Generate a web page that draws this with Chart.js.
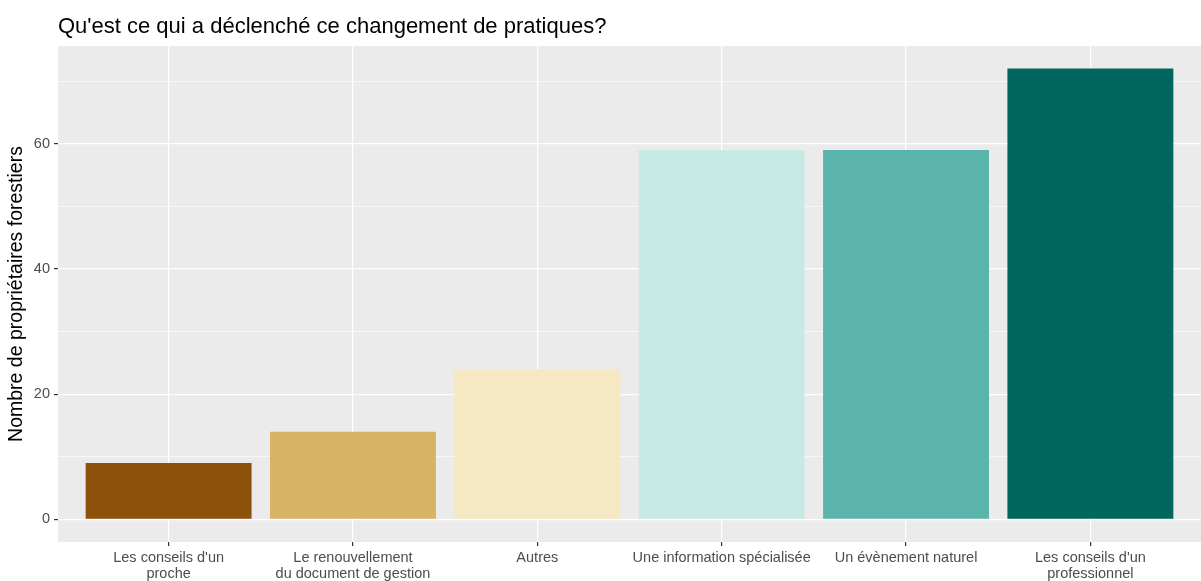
<!DOCTYPE html>
<html>
<head>
<meta charset="utf-8">
<script src="https://cdn.jsdelivr.net/npm/chart.js@4"></script>
<style>
  html, body { margin: 0; padding: 0; background: #fff; }
  #wrap { width: 1201px; height: 581px; }
</style>
</head>
<body>
<div id="wrap"><canvas id="c" width="1201" height="581"></canvas></div>
<script>
// categories (ordered by count, as in the picture)
const categories = [
  ["Les conseils d'un", "proche"],
  ["Le renouvellement", "du document de gestion"],
  ["Autres"],
  ["Une information spécialisée"],
  ["Un évènement naturel"],
  ["Les conseils d'un", "professionnel"]
];
const counts = [9, 14, 24, 59, 59, 72];
const barColors = ["#8C510A", "#D8B365", "#F6E8C3", "#C7EAE5", "#5AB4AC", "#01665E"];
const yTicks = [0, 10, 20, 30, 40, 50, 60, 70];
const yLabelTicks = [0, 20, 40, 60];

const titleText = "Qu'est ce qui a déclenché ce changement de pratiques?";
const font = "'Liberation Sans', Arial, sans-serif";

const panelBg = {
  id: "panelBg",
  beforeDraw(chart) {
    const a = chart.chartArea, ctx = chart.ctx;
    ctx.save();
    ctx.fillStyle = "#EBEBEB";
    ctx.fillRect(a.left, a.top, a.right - a.left, a.bottom - a.top);
    ctx.restore();
  },
  afterDraw(chart) {
    const ctx = chart.ctx;
    ctx.save();
    ctx.fillStyle = "#000";
    ctx.font = "22px " + font;
    ctx.textBaseline = "alphabetic";
    ctx.fillText(titleText, chart.chartArea.left, 33);
    ctx.restore();
  }
};

const isMajor = v => yLabelTicks.includes(v);

new Chart(document.getElementById("c"), {
  type: "bar",
  data: {
    datasets: [{
      data: counts.map((v, i) => ({ x: i, y: v })),
      backgroundColor: barColors,
      borderWidth: 0,
      barPercentage: 0.9,
      categoryPercentage: 1.0
    }]
  },
  options: {
    responsive: false,
    animation: false,
    devicePixelRatio: 1,
    layout: { padding: { top: 46, right: 0, left: 0, bottom: 0 } },
    plugins: { legend: { display: false }, tooltip: { enabled: false }, title: { display: false } },
    scales: {
      x: {
        type: "linear",
        min: -0.6,
        max: 5.6,
        offset: false,
        afterBuildTicks: s => { s.ticks = categories.map((c, i) => ({ value: i })); },
        afterFit: s => { s.height = 39; },
        border: { display: false },
        grid: {
          offset: false,
          color: "#FFFFFF",
          lineWidth: 1.2,
          drawTicks: true,
          tickLength: 4,
          tickColor: "#333333",
          tickWidth: 1.2
        },
        ticks: {
          autoSkip: false,
          maxRotation: 0,
          padding: 4,
          color: "#4D4D4D",
          font: { family: font, size: 14.5, lineHeight: 1.1 },
          callback: v => categories[v]
        }
      },
      y: {
        min: -3.6,
        max: 75.6,
        afterBuildTicks: s => { s.ticks = yTicks.map(v => ({ value: v })); },
        afterFit: s => { s.width = 58; },
        border: { display: false },
        grid: {
          color: "#FFFFFF",
          lineWidth: ctx => isMajor(ctx.tick.value) ? 1.2 : 0.6,
          drawTicks: true,
          tickLength: 4,
          tickColor: ctx => isMajor(ctx.tick.value) ? "#333333" : "rgba(0,0,0,0)",
          tickWidth: 1.2
        },
        ticks: {
          autoSkip: false,
          padding: 4,
          color: "#4D4D4D",
          font: { family: font, size: 14.5 },
          callback: v => isMajor(v) ? String(v) : ""
        },
        title: {
          display: true,
          text: "Nombre de propriétaires forestiers",
          color: "#000",
          font: { family: font, size: 19.5 },
          padding: { top: 5, bottom: 0 }
        }
      }
    }
  },
  plugins: [panelBg]
});
</script>
</body>
</html>
